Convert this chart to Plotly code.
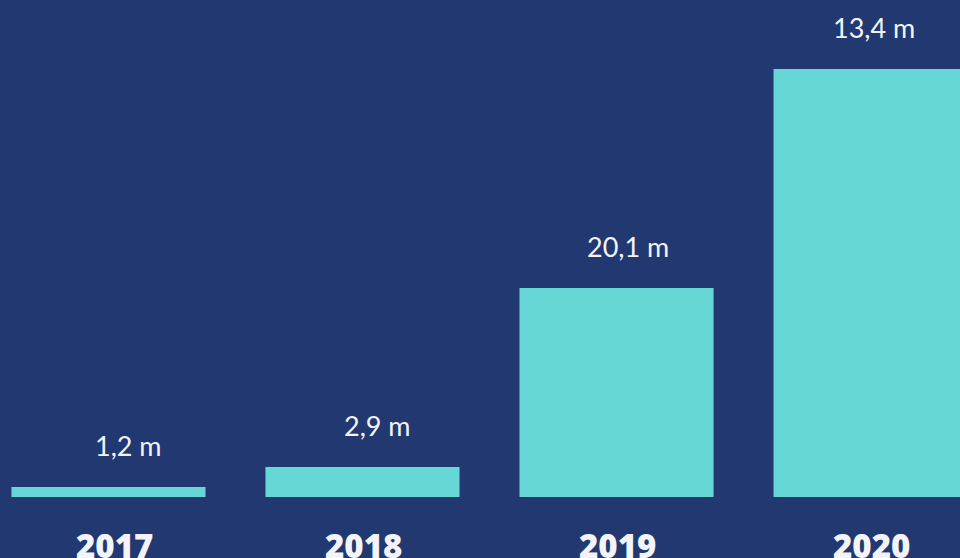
import plotly.graph_objects as go

# ---- data ----
years = ["2017", "2018", "2019", "2020"]
bar_heights = [1.0, 3.0, 20.9, 42.8]          # bar heights as drawn (relative units)
value_labels = ["1,2 m", "2,9 m", "20,1 m", "13,4 m"]

# ---- style ----
BG = "#223870"
BAR = "#67D7D6"
TXT = "#F2F4FA"
label_xshift = [20, 15, 11, 3]

xpos = list(range(len(years)))

fig = go.Figure(go.Bar(
    x=xpos, y=bar_heights, width=0.764,
    marker=dict(color=BAR, line=dict(width=0)),
    hoverinfo="skip",
))

for i, (yr, h, lab) in enumerate(zip(years, bar_heights, value_labels)):
    fig.add_annotation(x=i, y=h, text=lab, showarrow=False, yanchor="middle",
                       yshift=42, xshift=label_xshift[i],
                       font=dict(family="Lato", size=27, color=TXT))
    fig.add_annotation(x=i, y=0, text=yr, showarrow=False, yanchor="middle",
                       yshift=-48, xshift=6 if i == 0 else 1,
                       font=dict(family="Open Sans", size=33, color=TXT, weight=800))

fig.update_layout(
    width=960, height=558,
    margin=dict(l=0, r=0, t=0, b=0),
    paper_bgcolor=BG, plot_bgcolor=BG,
    showlegend=False,
    xaxis=dict(range=[-0.427, 3.352], visible=False, fixedrange=True),
    yaxis=dict(range=[-6.1, 49.7], visible=False, fixedrange=True),
)

fig.write_html(
    "out.html",
    config={"displayModeBar": False},
    post_script="document.body.style.margin='0';document.body.style.background='" + BG + "';",
)
